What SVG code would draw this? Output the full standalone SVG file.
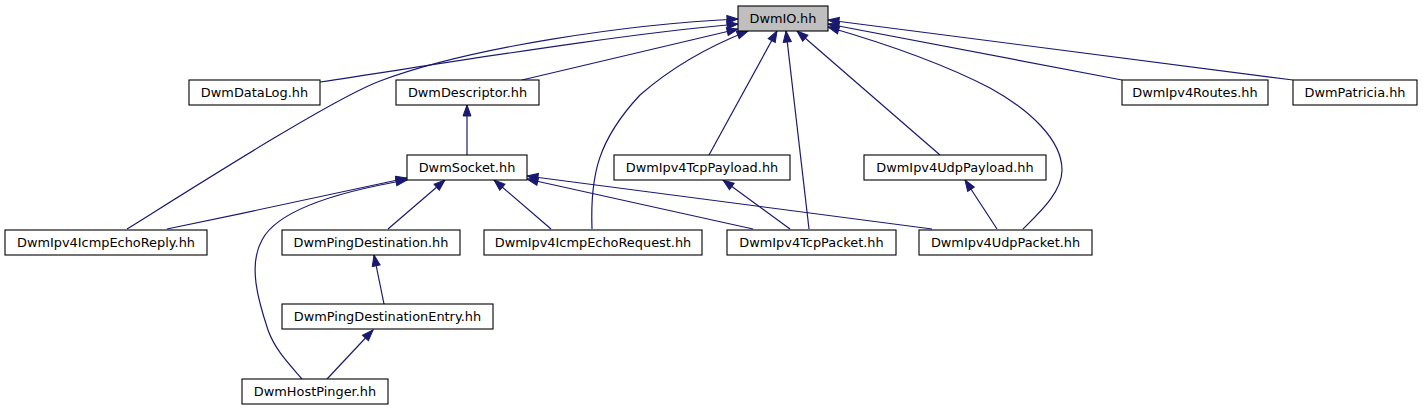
<svg xmlns="http://www.w3.org/2000/svg" width="1423" height="411" viewBox="0 0 1423 411">
<style>
.n rect{fill:#ffffff;stroke:#000000;stroke-width:1.1}
.n.root rect{fill:#bfbfbf}
.n text{font-family:"DejaVu Sans","Liberation Sans",sans-serif;font-size:12.9px;text-anchor:middle;fill:#000000}
.e path{fill:none;stroke:#191970;stroke-width:1.2;marker-end:url(#ah)}
</style>
<defs>
<marker id="ah" markerUnits="userSpaceOnUse" viewBox="0 0 13 10" markerWidth="13" markerHeight="10" refX="12" refY="5" orient="auto">
<path d="M1,1 L12,5 L1,9 z" fill="#191970" stroke="#191970" stroke-width="1"/>
</marker>
</defs>
<rect x="0" y="0" width="1423" height="411" fill="#ffffff"/>
<g id="edges" class="e">
<path d="M320,82 C440,64 620,34 738,24"/>
<path d="M127,229 C180,196 330,100 380,81 C470,47 630,24 738,19"/>
<path d="M522,80 L738,29"/>
<path d="M592,229 C590,175 598,140 640,95 C680,60 720,42 748,31"/>
<path d="M709,155 L777,31"/>
<path d="M809,229 L786,31"/>
<path d="M940,155 L797,31"/>
<path d="M1023,229 C1040,212 1062,192 1062,170 C1062,140 1030,110 990,88 C940,62 880,42 828,27"/>
<path d="M1122,80 L828,24"/>
<path d="M1293,80 L828,20"/>
<path d="M467,155 L467,105"/>
<path d="M167,229 C250,212 350,190 407,178"/>
<path d="M302,379 C290,365 275,350 268,330 C258,300 248,265 262,240 C280,205 360,188 407,180"/>
<path d="M388,229 L445,180"/>
<path d="M551,229 L494,180"/>
<path d="M753,229 L527,179"/>
<path d="M932,229 L527,176"/>
<path d="M790,229 L723,180"/>
<path d="M997,229 L965,180"/>
<path d="M384,304 L374,255"/>
<path d="M327,379 L373,330"/>
</g>
<g id="DwmIO" class="n root"><rect x="738" y="6" width="90" height="25"/><text x="783" y="22.5">DwmIO.hh</text></g>
<g id="DwmDataLog" class="n"><rect x="189" y="80" width="131" height="25"/><text x="254.5" y="96.5">DwmDataLog.hh</text></g>
<g id="DwmDescriptor" class="n"><rect x="396" y="80" width="143" height="25"/><text x="467.5" y="96.5">DwmDescriptor.hh</text></g>
<g id="DwmIpv4Routes" class="n"><rect x="1122" y="80" width="146" height="25"/><text x="1195" y="96.5">DwmIpv4Routes.hh</text></g>
<g id="DwmPatricia" class="n"><rect x="1293" y="80" width="124" height="25"/><text x="1355" y="96.5">DwmPatricia.hh</text></g>
<g id="DwmSocket" class="n"><rect x="407" y="155" width="120" height="25"/><text x="467" y="171.5">DwmSocket.hh</text></g>
<g id="DwmIpv4TcpPayload" class="n"><rect x="614" y="155" width="176" height="25"/><text x="702" y="171.5">DwmIpv4TcpPayload.hh</text></g>
<g id="DwmIpv4UdpPayload" class="n"><rect x="864" y="155" width="182" height="25"/><text x="955" y="171.5">DwmIpv4UdpPayload.hh</text></g>
<g id="DwmIpv4IcmpEchoReply" class="n"><rect x="5" y="230" width="202" height="25"/><text x="106" y="246.5">DwmIpv4IcmpEchoReply.hh</text></g>
<g id="DwmPingDestination" class="n"><rect x="282" y="230" width="178" height="25"/><text x="371" y="246.5">DwmPingDestination.hh</text></g>
<g id="DwmIpv4IcmpEchoRequest" class="n"><rect x="484" y="230" width="218" height="25"/><text x="593" y="246.5">DwmIpv4IcmpEchoRequest.hh</text></g>
<g id="DwmIpv4TcpPacket" class="n"><rect x="727" y="230" width="169" height="25"/><text x="811.5" y="246.5">DwmIpv4TcpPacket.hh</text></g>
<g id="DwmIpv4UdpPacket" class="n"><rect x="919" y="230" width="173" height="25"/><text x="1005.5" y="246.5">DwmIpv4UdpPacket.hh</text></g>
<g id="DwmPingDestinationEntry" class="n"><rect x="282" y="304" width="211" height="25"/><text x="387.5" y="320.5">DwmPingDestinationEntry.hh</text></g>
<g id="DwmHostPinger" class="n"><rect x="242" y="379" width="146" height="25"/><text x="315" y="395.5">DwmHostPinger.hh</text></g>
</svg>
